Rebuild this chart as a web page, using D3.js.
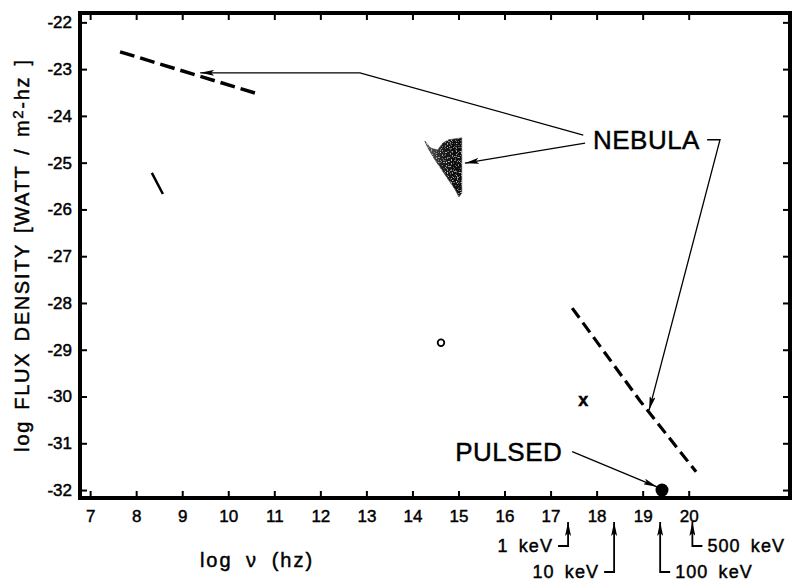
<!DOCTYPE html>
<html>
<head>
<meta charset="utf-8">
<script src="https://cdn.jsdelivr.net/npm/d3@7"></script>
<style>
  body { margin: 0; background: #fff; }
  svg { display: block; }
  text { font-family: "Liberation Sans", Arial, sans-serif; fill: #000; stroke: #000; stroke-width: 0.45px; }
</style>
</head>
<body>
<svg id="chart"></svg>
<script>
// --- data (log nu in Hz, log flux in W / m2 Hz) ---
const xTicks = [7, 8, 9, 10, 11, 12, 13, 14, 15, 16, 17, 18, 19, 20];
const yTicks = [-22, -23, -24, -25, -26, -27, -28, -29, -30, -31, -32];

// radio spectrum (dashed) and the short solid segment
const radioDashed = [[7.65, -22.63], [10.58, -23.51]];
const radioShort = [[8.34, -25.22], [8.58, -25.67]];

// x-ray / gamma spectrum of the nebula (dashed)
const xrayDashed = [[17.47, -28.11], [18.94, -30.09], [20.16, -31.61]];

// optical nebula region (shaded)
const opticalBlob = [
  [14.27, -24.54], [14.40, -24.69], [14.55, -24.73], [14.66, -24.58],
  [14.79, -24.51], [14.94, -24.49], [15.07, -24.47], [15.07, -25.65],
  [15.01, -25.73], [14.93, -25.58], [14.71, -25.26], [14.49, -24.94],
  [14.34, -24.69]
];

// single points
const openCircle = [14.62, -28.85];
const crossMark = [17.71, -30.09];
const pulsedDot = [19.42, -32.0];

// annotation leaders
const nebulaLabel = [17.92, -24.51];
const nebulaLeaders = [
  [[17.71, -24.41], [12.86, -23.08], [9.39, -23.08]],
  [[17.75, -24.58], [15.14, -25.01]],
  [[20.40, -24.51], [20.68, -24.51], [19.14, -30.29]]
];
const pulsedLabel = [14.93, -31.18];
const pulsedLeader = [[17.47, -31.18], [19.31, -31.93]];

// photon energy markers under the axis
const energyLabels = ["1 keV", "10 keV", "100 keV", "500 keV"];
const energyLogNu = [17.38, 18.38, 19.38, 20.08];
const energySide = ["left", "left", "right", "right"];
const energyRow = [0, 1, 1, 0];

const width = 794, height = 583;
const frame = {left: 80, right: 790, top: 13, bottom: 498};

const svg = d3.select("#chart")
    .attr("width", width)
    .attr("height", height);

const x = d3.scaleLinear()
    .domain([6.78, 22.2])
    .range([frame.left, frame.right]);

const y = d3.scaleLinear()
    .domain([-21.8, -32.17])
    .range([frame.top, frame.bottom]);

const defs = svg.append("defs");

// arrowhead used by all the leader lines
defs.append("marker")
    .attr("id", "arrow")
    .attr("viewBox", "0 0 14 6")
    .attr("refX", 14)
    .attr("refY", 3)
    .attr("markerWidth", 14)
    .attr("markerHeight", 6)
    .attr("markerUnits", "userSpaceOnUse")
    .attr("orient", "auto")
  .append("path")
    .attr("d", "M0,0 L14,3 L0,6 L3,3 Z")
    .attr("fill", "#000");

const grad = defs.append("linearGradient")
    .attr("id", "blobFill")
    .attr("x1", "0").attr("x2", "1").attr("y1", "0").attr("y2", "0");
grad.append("stop").attr("offset", "0%").attr("stop-color", "#666");
grad.append("stop").attr("offset", "50%").attr("stop-color", "#1c1c1c");
grad.append("stop").attr("offset", "100%").attr("stop-color", "#050505");

// speckled look of the photographic shading
const speckle = defs.append("filter").attr("id", "speckle");
speckle.append("feTurbulence")
    .attr("type", "fractalNoise")
    .attr("baseFrequency", 0.8)
    .attr("numOctaves", 1)
    .attr("seed", 3)
    .attr("result", "noise");
speckle.append("feColorMatrix")
    .attr("in", "noise")
    .attr("type", "matrix")
    .attr("values", "0 0 0 0 1  0 0 0 0 1  0 0 0 0 1  0 0 0 -3 1.3")
    .attr("result", "dots");
speckle.append("feComposite")
    .attr("in", "dots")
    .attr("in2", "SourceGraphic")
    .attr("operator", "in")
    .attr("result", "dotsIn");
const merge = speckle.append("feMerge");
merge.append("feMergeNode").attr("in", "SourceGraphic");
merge.append("feMergeNode").attr("in", "dotsIn");

// --- axes (ticks point into the frame) ---
const tickLen = 7;

svg.append("g")
    .attr("transform", `translate(0,${frame.bottom})`)
    .call(d3.axisBottom(x).tickValues(xTicks).tickSize(-tickLen).tickPadding(12)
      .tickFormat(d => String(d)))
    .call(g => g.select(".domain").remove());

svg.append("g")
    .attr("transform", `translate(0,${frame.top})`)
    .call(d3.axisTop(x).tickValues(xTicks).tickSize(-tickLen).tickFormat(""))
    .call(g => g.select(".domain").remove());

svg.append("g")
    .attr("transform", `translate(${frame.left},0)`)
    .call(d3.axisLeft(y).tickValues(yTicks).tickSize(-tickLen).tickPadding(8)
      .tickFormat(d => String(d)))
    .call(g => g.select(".domain").remove());

svg.append("g")
    .attr("transform", `translate(${frame.right},0)`)
    .call(d3.axisRight(y).tickValues(yTicks).tickSize(-tickLen).tickFormat(""))
    .call(g => g.select(".domain").remove());

svg.selectAll(".tick line")
    .attr("stroke", "#000")
    .attr("stroke-width", 2);

svg.selectAll(".tick text")
    .style("font-size", "17px")
    .style("font-family", "\"Liberation Sans\", Arial, sans-serif");

// thick frame
svg.append("rect")
    .attr("x", frame.left)
    .attr("y", frame.top)
    .attr("width", frame.right - frame.left)
    .attr("height", frame.bottom - frame.top)
    .attr("fill", "none")
    .attr("stroke", "#000")
    .attr("stroke-width", 4);

// --- axis titles ---
svg.append("text")
    .attr("x", 257)
    .attr("y", 567)
    .attr("text-anchor", "middle")
    .style("font-size", "20px")
    .style("letter-spacing", "2px")
    .style("word-spacing", "6px")
    .text("log ν (hz)");

const yTitle = svg.append("text")
    .attr("transform", "translate(29,255) rotate(-90)")
    .attr("text-anchor", "middle")
    .style("font-size", "20px")
    .style("letter-spacing", "1.7px")
    .style("word-spacing", "3px");
yTitle.append("tspan").text("log  FLUX  DENSITY  [WATT / m");
yTitle.append("tspan").attr("dy", -6).style("font-size", "15px").text("2");
yTitle.append("tspan").attr("dy", 6).text("-hz ]");

// --- data marks ---
const line = d3.line().x(d => x(d[0])).y(d => y(d[1]));

svg.append("path")
    .attr("d", line(opticalBlob) + "Z")
    .attr("fill", "url(#blobFill)")
    .attr("stroke", "#444")
    .attr("stroke-width", 0.8)
    .attr("filter", "url(#speckle)");

svg.append("path")
    .attr("d", line(radioDashed))
    .attr("fill", "none")
    .attr("stroke", "#000")
    .attr("stroke-width", 3.5)
    .attr("stroke-dasharray", "15,6");

svg.append("path")
    .attr("d", line(radioShort))
    .attr("fill", "none")
    .attr("stroke", "#000")
    .attr("stroke-width", 2.5);

svg.append("path")
    .attr("d", line(xrayDashed))
    .attr("fill", "none")
    .attr("stroke", "#000")
    .attr("stroke-width", 3.2)
    .attr("stroke-dasharray", "12,6");

svg.append("circle")
    .attr("cx", x(openCircle[0]))
    .attr("cy", y(openCircle[1]))
    .attr("r", 3.3)
    .attr("fill", "none")
    .attr("stroke", "#000")
    .attr("stroke-width", 1.8);

svg.append("text")
    .attr("x", x(crossMark[0]))
    .attr("y", y(crossMark[1]) + 5)
    .attr("text-anchor", "middle")
    .style("font-size", "18px")
    .style("font-weight", "bold")
    .text("x");

svg.append("circle")
    .attr("cx", x(pulsedDot[0]))
    .attr("cy", y(pulsedDot[1]))
    .attr("r", 6.5)
    .attr("fill", "#000");

// --- annotations ---
svg.append("text")
    .attr("x", x(nebulaLabel[0]))
    .attr("y", y(nebulaLabel[1]) + 9)
    .style("font-size", "26px")
    .style("letter-spacing", "0.5px")
    .text("NEBULA");

svg.selectAll(".leader")
  .data(nebulaLeaders.concat([pulsedLeader]))
  .join("path")
    .attr("class", "leader")
    .attr("d", line)
    .attr("fill", "none")
    .attr("stroke", "#000")
    .attr("stroke-width", 1.3)
    .attr("marker-end", "url(#arrow)");

svg.append("text")
    .attr("x", x(pulsedLabel[0]))
    .attr("y", y(pulsedLabel[1]) + 9)
    .style("font-size", "26px")
    .style("letter-spacing", "0.5px")
    .text("PULSED");

// energy markers below the frequency axis
const rowY = [546, 572];
const tipY = 522;
const energy = svg.append("g");

energyLabels.forEach((label, i) => {
  const ex = x(energyLogNu[i]);
  const ey = rowY[energyRow[i]];
  const dir = energySide[i] === "left" ? -1 : 1;
  energy.append("path")
      .attr("d", `M${ex + dir * 10},${ey} L${ex},${ey} L${ex},${tipY}`)
      .attr("fill", "none")
      .attr("stroke", "#000")
      .attr("stroke-width", 1.8)
      .attr("marker-end", "url(#arrow)");
  energy.append("text")
      .attr("x", ex + dir * 15)
      .attr("y", ey + 6)
      .attr("text-anchor", dir < 0 ? "end" : "start")
      .style("font-size", "18px")
      .style("letter-spacing", "1.1px")
      .style("word-spacing", "4px")
      .text(label);
});
</script>
</body>
</html>
